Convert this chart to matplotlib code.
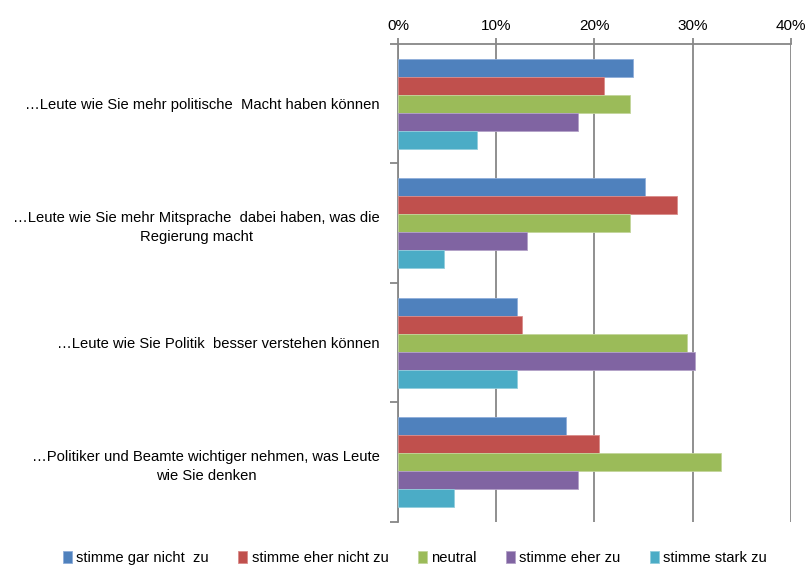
import matplotlib
matplotlib.use("Agg")
import matplotlib.pyplot as plt
import numpy as np
from matplotlib.ticker import FixedLocator, PercentFormatter

plt.rcParams['font.family'] = ['Liberation Sans', 'DejaVu Sans']

categories = [
    "\u2026Leute wie Sie mehr politische  Macht haben k\u00f6nnen",
    "\u2026Leute wie Sie mehr Mitsprache  dabei haben, was die\nRegierung macht",
    "\u2026Leute wie Sie Politik  besser verstehen k\u00f6nnen",
    "\u2026Politiker und Beamte wichtiger nehmen, was Leute\nwie Sie denken",
]
series = ["stimme gar nicht  zu", "stimme eher nicht zu", "neutral",
          "stimme eher zu", "stimme stark zu"]
values = {
    "stimme gar nicht  zu": [23.9, 25.2, 12.1, 17.1],
    "stimme eher nicht zu": [21.0, 28.4, 12.6, 20.5],
    "neutral": [23.6, 23.6, 29.4, 32.9],
    "stimme eher zu": [18.3, 13.1, 30.3, 18.3],
    "stimme stark zu": [8.0, 4.7, 12.1, 5.7],
}
colors = ["#4F81BD", "#C0504D", "#9BBB59", "#8064A2", "#4BACC6"]
edges = ["#8FAEDA", "#DA8C8A", "#C3D69B", "#B2A1C7", "#93CDDD"]

fig = plt.figure(figsize=(8.06, 5.69), dpi=100)
ax = fig.add_axes([0.4938, 0.0826, 0.4872, 0.8401])

y = np.arange(len(categories))
h = 0.15
for i, s in enumerate(series):
    ax.barh(y + (i - 2) * h, values[s], height=h, color=colors[i],
            edgecolor=edges[i], linewidth=0.6, label=s, zorder=3)

grid = "#878787"
ax.set_xlim(0, 40)
ax.set_ylim(len(categories) - 0.5, -0.5)
ax.xaxis.set_major_locator(FixedLocator([0, 10, 20, 30, 40]))
ax.xaxis.set_major_formatter(PercentFormatter(decimals=0))
ax.xaxis.tick_top()
ax.grid(axis='x', color=grid, linewidth=1.3, zorder=0)
ax.tick_params(axis='x', which='major', length=4, width=1.3, color=grid,
               labelsize=11, labelcolor="#000000", pad=4)

ax.set_yticks(y)
ax.set_yticklabels(categories, fontsize=10.6, color="#000000", ha='right',
                   multialignment='center', linespacing=1.45)
ax.tick_params(axis='y', which='major', length=0, pad=13)
ax.set_yticks(np.arange(-0.5, len(categories), 1), minor=True)
ax.tick_params(axis='y', which='minor', length=6, width=1.3, color=grid)

for side in ['right', 'bottom']:
    ax.spines[side].set_visible(False)
for side in ['top', 'left']:
    ax.spines[side].set_color(grid)
    ax.spines[side].set_linewidth(1.3)

leg = fig.legend(loc='center', bbox_to_anchor=(0.515, 0.019), ncol=5,
                 frameon=False, fontsize=10.6, handlelength=0.6,
                 handleheight=0.9, handletextpad=0.3, columnspacing=2.0)

fig.savefig("out.png", dpi=100)
